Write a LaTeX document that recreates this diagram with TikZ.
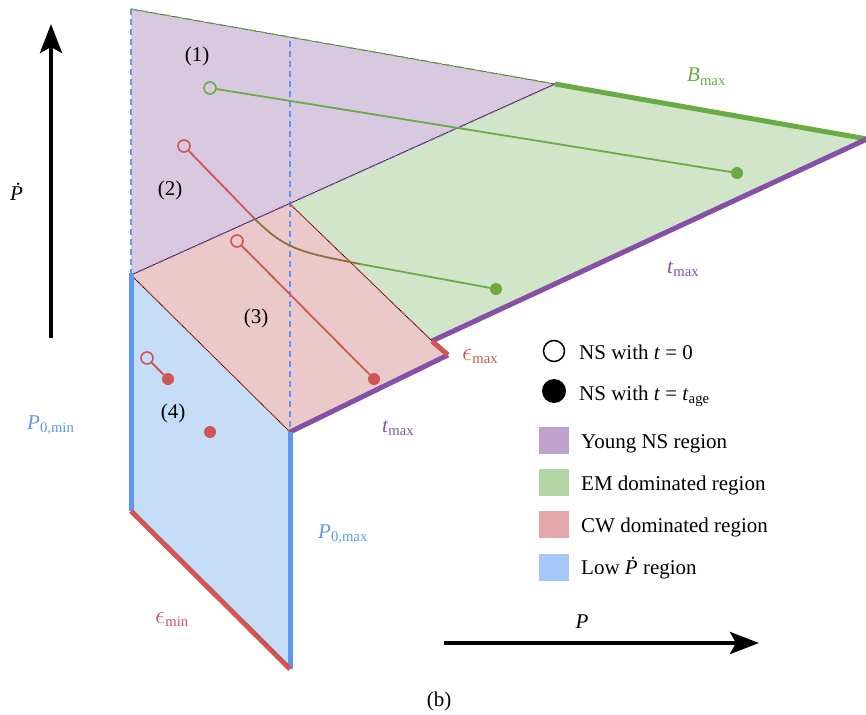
\documentclass[tikz,border=0pt]{standalone}
\usepackage{fontspec}
\usepackage{graphicx}
\setmainfont{Liberation Serif}
\usetikzlibrary{arrows.meta}
\definecolor{cpur}{HTML}{8650A6}
\definecolor{cgre}{HTML}{6AAB45}
\definecolor{cred}{HTML}{D05555}
\definecolor{cblu}{HTML}{5B97F3}
\definecolor{cbrn}{HTML}{8E7044}
\definecolor{fpur}{HTML}{D9C9E0}
\definecolor{fgre}{HTML}{D1E5C8}
\definecolor{fred}{HTML}{EBC9CA}
\definecolor{fblu}{HTML}{C6DDF8}
\definecolor{spur}{HTML}{C0A3CD}
\definecolor{sgre}{HTML}{B3D6A5}
\definecolor{sred}{HTML}{E3A7A9}
\definecolor{sblu}{HTML}{A5C8F9}
\newcommand\myeps{\scalebox{1.25}{$\epsilon$}}
\tikzset{
  lbl/.style={font=\fontsize{21}{25}\selectfont, inner sep=0pt},
  thickedge/.style={line width=5pt},
  thinblack/.style={black, line width=0.6pt},
  dashedge/.style={line width=1.4pt, dash pattern=on 6pt off 5pt},
  vdash/.style={cblu, line width=2pt, dash pattern=on 6pt off 4pt},
  track/.style={line width=1.8pt},
  opendot/.style={circle, draw=#1, line width=1.6pt, minimum size=12pt, inner sep=0pt},
  fulldot/.style={circle, fill=#1, minimum size=12pt, inner sep=0pt},
  bigarrow/.style={line width=4pt, -{Stealth[length=29pt,width=22pt,inset=6pt]}},
  swatch/.style={minimum width=30pt, minimum height=27pt, inner sep=0pt},
}
\begin{document}
\begin{tikzpicture}[x=1pt,y=-1pt]
\useasboundingbox (0,0) rectangle (866,714);
% vertices
\coordinate (A) at (131,9);
\coordinate (B) at (555,84);
\coordinate (C) at (867,139);
\coordinate (D) at (290,204);
\coordinate (E) at (131,275);
\coordinate (F) at (432,341);
\coordinate (G) at (448,355);
\coordinate (H) at (290,432);
\coordinate (I) at (290,669);
\coordinate (J) at (131,511);
\coordinate (K) at (290,41);
\coordinate (Etop) at (131,273);
% fills
\fill[fpur] (A)--(B)--(E)--cycle;
\fill[fgre] (B)--(C)--(F)--(D)--cycle;
\fill[fred] (D)--(F)--(G)--(H)--(E)--cycle;
\fill[fblu] (E)--(H)--(I)--(J)--cycle;
% dashed verticals
\draw[vdash] (A)--(E);
\draw[vdash] (K)--(H);
% thin boundaries
\draw[thinblack, line width=0.4pt] (A)--(B);
\draw[cgre, dashedge] (A)--(B);
\draw[thinblack] (B)--(E);
\draw[cpur, dashedge] (B)--(E);
\draw[thinblack] (D)--(F);
\draw[cred, dashedge] (D)--(F);
\draw[thinblack] (E)--(H);
\draw[cred, dashedge] (E)--(H);
% thick boundaries
\draw[cgre, thickedge] (B)--(C);
\draw[cpur, thickedge] (C)--(F);
\draw[cpur, thickedge] (G)--(H);
\draw[cred, thickedge] (F)--(G);
\draw[cblu, thickedge] (Etop)--(J);
\draw[cblu, thickedge] (H)--(I);
\draw[cred, thickedge] (J)--(I);
% tracks
\node[opendot=cgre] (t1s) at (210,88) {};
\node[fulldot=cgre] (t1e) at (737,173) {};
\draw[cgre, track] (t1s)--(t1e);
\node[opendot=cred] (t2s) at (184,146) {};
\node[fulldot=cgre] (t2e) at (496,289) {};
\coordinate (t2a) at (252,216);
\coordinate (t2b) at (360,264);
\draw[cred, track] (t2s)--(t2a);
\draw[cbrn, track] (t2a) .. controls (285,250) and (300,252) .. (t2b);
\draw[cgre, track] (t2b)--(t2e);
\node[opendot=cred] (t3s) at (237,241) {};
\node[fulldot=cred] (t3e) at (374,379) {};
\draw[cred, track] (t3s)--(t3e);
\node[opendot=cred] (t4s) at (147,358) {};
\node[fulldot=cred] (t4e) at (168,379) {};
\draw[cred, track] (t4s)--(t4e);
\node[fulldot=cred] (t4x) at (210,432) {};
% region numbers
\node[lbl, anchor=base] (n1) at (197,62) {(1)};
\node[lbl, anchor=base] (n2) at (170,195) {(2)};
\node[lbl, anchor=base] (n3) at (256,323) {(3)};
\node[lbl, anchor=base] (n4) at (173,418) {(4)};
% edge labels
\node[lbl, anchor=base west, text=cgre] (lbmax) at (687,82) {\textit{B}\textsubscript{max}};
\node[lbl, anchor=base west, text=cpur] (ltmax1) at (667,273) {\textit{t}\textsubscript{max}};
\node[lbl, anchor=base west, text=cpur] (ltmax2) at (382,432) {\textit{t}\textsubscript{max}};
\node[lbl, anchor=base west, text=cred] (lemax) at (462,360) {\myeps\textsubscript{max}};
\node[lbl, anchor=base west, text=cred] (lemin) at (155,623) {\myeps\textsubscript{min}};
\node[lbl, anchor=base west, text=cblu] (lp0min) at (27,429) {\textit{P}\textsubscript{0,min}};
\node[lbl, anchor=base west, text=cblu] (lp0max) at (318,538) {\textit{P}\textsubscript{0,max}};
% axes
\coordinate (yax0) at (51,338);
\coordinate (yax1) at (51,24);
\coordinate (xax0) at (444,643);
\coordinate (xax1) at (759,643);
\draw[bigarrow] (yax0)--(yax1);
\draw[bigarrow] (xax0)--(xax1);
\node[lbl, anchor=base west] (lpdot) at (10,200) {\textit{\.P}};
\node[lbl, anchor=base] (lp) at (582,628) {\textit{P}};
\node[lbl, anchor=base] (lb) at (439,706) {(b)};
% legend
\node[circle, draw=black, line width=1.5pt, minimum size=21pt, inner sep=0pt] (lg1) at (554,351) {};
\node[lbl, anchor=base west] (lgt1) at (579,359) {NS with \textit{t} = 0};
\node[circle, fill=black, minimum size=24pt, inner sep=0pt] (lg2) at (554,391) {};
\node[lbl, anchor=base west] (lgt2) at (579,400) {NS with \textit{t} = \textit{t}\textsubscript{age}};
\node[swatch, fill=spur] (sw1) at (554,440) {};
\node[lbl, anchor=base west] (lgt3) at (581,448) {Young NS region};
\node[swatch, fill=sgre] (sw2) at (554,482) {};
\node[lbl, anchor=base west] (lgt4) at (581,490) {EM dominated region};
\node[swatch, fill=sred] (sw3) at (554,524) {};
\node[lbl, anchor=base west] (lgt5) at (581,532) {CW dominated region};
\node[swatch, fill=sblu] (sw4) at (554,567) {};
\node[lbl, anchor=base west] (lgt6) at (581,574) {Low \textit{\.P} region};
\end{tikzpicture}
\end{document}
